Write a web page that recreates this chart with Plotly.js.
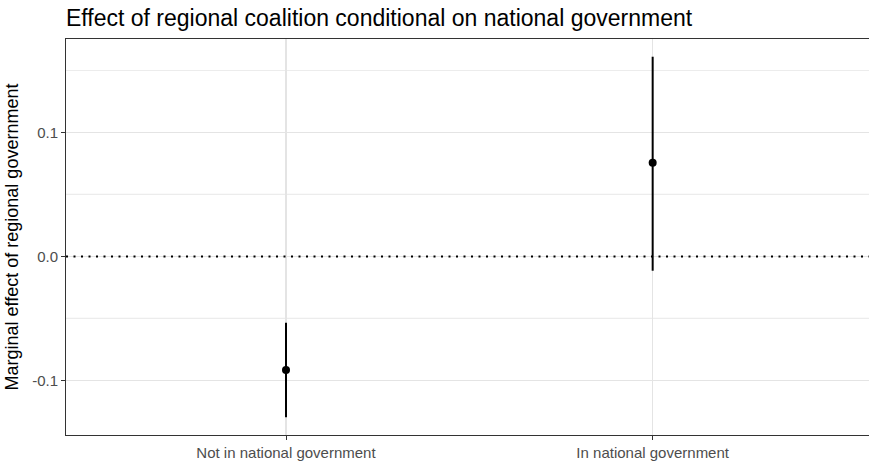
<!DOCTYPE html>
<html>
<head>
<meta charset="utf-8">
<script src="https://cdn.plot.ly/plotly-3.0.1.min.js"></script>
<style>
  html, body { margin: 0; padding: 0; background: #fff; }
  #chart { width: 869px; height: 462px; }
</style>
</head>
<body>
<div id="chart"></div>
<script>
// Marginal effect estimates with 95% confidence bounds
const categories = ["Not in national government", "In national government"];
const estimates = [-0.0915, 0.0756];
const upperBounds = [-0.0534, 0.1611];
const lowerBounds = [-0.1297, -0.0115];
const yTickValues = [-0.1, 0.0, 0.1];
const yTickLabels = ["-0.1", "0.0", "0.1"];
const minorGrid = [-0.05, 0.05, 0.15];

const trace = {
  type: "scatter",
  mode: "markers",
  x: categories,
  y: estimates,
  marker: { color: "#000", size: 8 },
  error_y: {
    type: "data",
    symmetric: false,
    array: upperBounds.map((u, i) => u - estimates[i]),
    arrayminus: estimates.map((e, i) => e - lowerBounds[i]),
    color: "#000",
    thickness: 2,
    width: 0
  },
  hoverinfo: "x+y",
  showlegend: false
};

// minor gridlines sit halfway between the labelled ticks
const gridShapes = minorGrid.map(v => ({
  type: "line", xref: "paper", x0: 0, x1: 1, yref: "y", y0: v, y1: v,
  line: { color: "#ececec", width: 1.2 }, layer: "below"
}));

const layout = {
  width: 869,
  height: 462,
  margin: { l: 66, r: 0, t: 39, b: 27 },
  paper_bgcolor: "#fff",
  plot_bgcolor: "#fff",
  font: { family: "Liberation Sans, Arial, sans-serif", color: "#4d4d4d" },
  title: {
    text: "Effect of regional coalition conditional on national government",
    font: { size: 23, color: "#000" },
    x: 0, xref: "paper", xanchor: "left",
    y: 0.962, yref: "container", yanchor: "middle"
  },
  xaxis: {
    type: "category",
    range: [-0.6, 1.59],
    showgrid: true,
    gridcolor: "#e4e4e4",
    gridwidth: 1.6,
    zeroline: false,
    showline: true,
    mirror: true,
    linecolor: "#333",
    linewidth: 1,
    ticks: "outside",
    ticklen: 4,
    tickcolor: "#333",
    tickfont: { size: 15, color: "#4d4d4d" }
  },
  yaxis: {
    range: [-0.144, 0.1754],
    tickvals: yTickValues,
    ticktext: yTickLabels,
    showgrid: true,
    gridcolor: "#e4e4e4",
    gridwidth: 1.6,
    zeroline: false,
    showline: true,
    linecolor: "#333",
    linewidth: 1,
    ticks: "outside",
    ticklen: 4,
    tickcolor: "#333",
    tickfont: { size: 15, color: "#4d4d4d" },
    title: {
      text: "Marginal effect of regional government",
      font: { size: 18, color: "#000" },
      standoff: 8
    }
  },
  shapes: gridShapes.concat([{
    type: "line", xref: "paper", x0: 0, x1: 1, yref: "y", y0: 0, y1: 0,
    line: { color: "#000", width: 2, dash: "2px,5.5px" }
  }])
};

Plotly.newPlot("chart", [trace], layout, { displayModeBar: false, staticPlot: true });
</script>
</body>
</html>
